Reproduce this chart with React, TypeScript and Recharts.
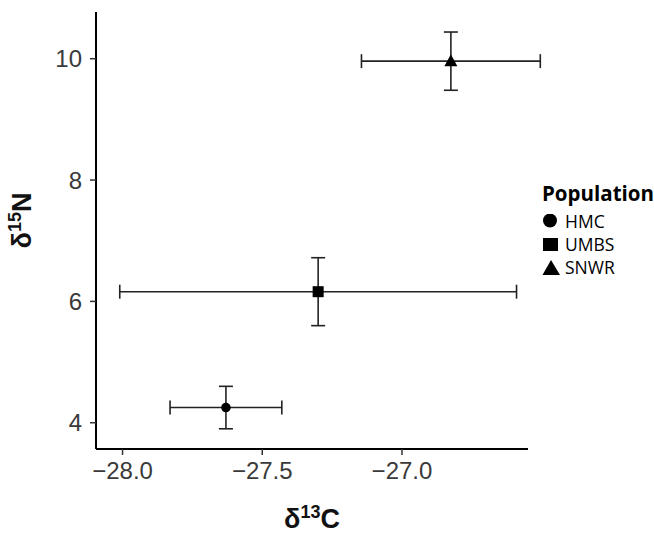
import React from 'react';
import { ScatterChart, Scatter, XAxis, YAxis, ErrorBar, Legend } from 'recharts';

const populations = ['HMC', 'UMBS', 'SNWR'];
const carbonMeans = [-27.63, -27.3, -26.825];
const carbonErrors = [0.2, 0.71, 0.32];
const nitrogenMeans = [4.25, 6.16, 9.96];
const nitrogenErrors = [0.35, 0.56, 0.48];
const xTicks = [-28, -27.5, -27];
const yTicks = [4, 6, 8, 10];

const tickFont = { fill: '#3a3a3a', fontSize: 24, fontFamily: '"Liberation Sans", Arial, sans-serif' };

const seriesData = populations.map((name, i) => [
  { name, x: carbonMeans[i], y: nitrogenMeans[i], xErr: carbonErrors[i], yErr: nitrogenErrors[i] },
]);

const CircleMark = (props: any) => <circle cx={props.cx} cy={props.cy} r={4.8} fill="#000" />;
const SquareMark = (props: any) => (
  <rect x={props.cx - 5.5} y={props.cy - 5.5} width={11} height={11} fill="#000" />
);
const TriangleMark = (props: any) => (
  <polygon
    points={`${props.cx},${props.cy - 7} ${props.cx - 6.5},${props.cy + 5} ${props.cx + 6.5},${props.cy + 5}`}
    fill="#000"
  />
);
const marks = [CircleMark, SquareMark, TriangleMark];

// legend glyphs, a bit larger than the plotted points
const legendIcon = (i: number) => {
  if (i === 0) return <circle cx={8} cy={6.5} r={7} fill="#000" />;
  if (i === 1) return <rect x={1} y={1} width={15} height={13} fill="#000" />;
  return <polygon points="9,0 0.5,15 18,15" fill="#000" />;
};

const PopulationLegend = () => (
  <div style={{ fontFamily: '"Open Sans", "Noto Sans", sans-serif', color: '#000', whiteSpace: 'nowrap' }}>
    <div style={{ fontWeight: 700, fontSize: 20.5, lineHeight: '24px', marginBottom: 5 }}>Population</div>
    {populations.map((p, i) => (
      <div key={p} style={{ display: 'flex', alignItems: 'center', height: 23 }}>
        <svg width={19} height={16} style={{ marginRight: 4 }}>
          {legendIcon(i)}
        </svg>
        <span style={{ fontSize: 17.5, lineHeight: '23px' }}>{p}</span>
      </div>
    ))}
  </div>
);

const XTitle = (props: any) => {
  const { x, y, width } = props.viewBox;
  return (
    <text x={x + width / 2} y={y + 79} textAnchor="middle" fontWeight="bold" fontSize={27}
      fontFamily='"Liberation Sans", Arial, sans-serif' fill="#111">
      δ<tspan dy={-10} fontSize={18}>13</tspan><tspan dy={10}>C</tspan>
    </text>
  );
};

const YTitle = (props: any) => {
  const { y, height } = props.viewBox;
  const cx = 31;
  const cy = y + height / 2 - 10;
  return (
    <text x={cx} y={cy} textAnchor="middle" fontWeight="bold" fontSize={27}
      fontFamily='"Liberation Sans", Arial, sans-serif' fill="#111"
      transform={`rotate(-90, ${cx}, ${cy})`}>
      δ<tspan dy={-10} fontSize={18}>15</tspan><tspan dy={10}>N</tspan>
    </text>
  );
};

const fmt = (v: number) => v.toFixed(1).replace('-', '\u2212');

export default function App() {
  return (
    <div style={{ position: 'absolute', left: 0, top: 0, width: 654, height: 536, background: '#fff', overflow: 'hidden' }}>
      <ScatterChart width={654} height={536} margin={{ top: 12, right: 126, bottom: 27, left: 0 }}>
        <XAxis
          type="number"
          dataKey="x"
          domain={[-28.095, -26.549]}
          ticks={xTicks}
          allowDataOverflow
          tickFormatter={fmt}
          tick={tickFont}
          tickSize={6}
          tickMargin={7}
          tickLine={{ stroke: '#333', strokeWidth: 1.5 }}
          axisLine={{ stroke: '#000', strokeWidth: 2 }}
          height={60}
          label={<XTitle />}
        />
        <YAxis
          type="number"
          dataKey="y"
          domain={[3.567, 10.77]}
          ticks={yTicks}
          allowDataOverflow
          tick={tickFont}
          tickSize={6}
          tickMargin={8}
          tickLine={{ stroke: '#333', strokeWidth: 1.5 }}
          axisLine={{ stroke: '#000', strokeWidth: 2 }}
          width={96}
          label={<YTitle />}
        />
        <Legend
          layout="horizontal"
          verticalAlign="middle"
          align="center"
          content={<PopulationLegend />}
          wrapperStyle={{ left: 542, top: 181, width: 112, height: 100 }}
        />
        {populations.map((p, i) => (
          <Scatter key={p} name={p} data={seriesData[i]} shape={marks[i]} isAnimationActive={false}>
            <ErrorBar dataKey="xErr" direction="x" width={7} stroke="#222" strokeWidth={1.6} />
            <ErrorBar dataKey="yErr" direction="y" width={7} stroke="#222" strokeWidth={1.6} />
          </Scatter>
        ))}
      </ScatterChart>
    </div>
  );
}
